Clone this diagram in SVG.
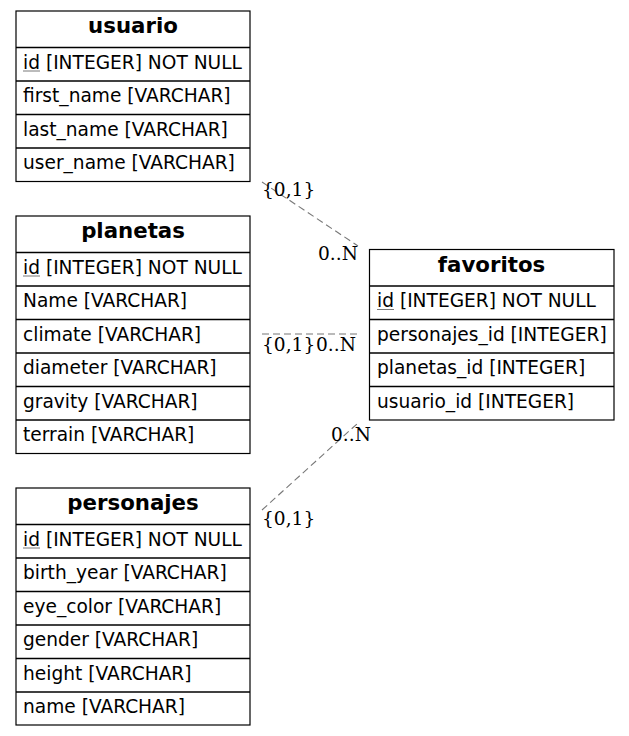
<svg xmlns="http://www.w3.org/2000/svg" width="629" height="736" viewBox="0 0 629 736">
<style>
.box{fill:#fff;stroke:#000;stroke-width:1.2}
.sep{stroke:#000;stroke-width:1.6}
.h{font-family:"DejaVu Sans",sans-serif;font-size:21.3px;font-weight:bold;text-anchor:middle;fill:#000}
.r{font-family:"DejaVu Sans",sans-serif;font-size:18.6px;fill:#000}
.u{stroke:#555;stroke-width:0.8}
.e{stroke:#777;stroke-width:1.1;stroke-dasharray:7,4;fill:none}
.l{font-family:"DejaVu Serif",serif;font-size:18.6px;fill:#000}
</style>
<rect width="629" height="736" fill="#fff"/>
<g id="usuario">
<rect class="box" x="16" y="11" width="234" height="170.5"/>
<line class="sep" x1="16" y1="47.5" x2="250" y2="47.5"/>
<line class="sep" x1="16" y1="81" x2="250" y2="81"/>
<line class="sep" x1="16" y1="114.5" x2="250" y2="114.5"/>
<line class="sep" x1="16" y1="148" x2="250" y2="148"/>
<text class="h" x="133" y="32.5">usuario</text>
<text class="r" x="23" y="68.5">id [INTEGER] NOT NULL</text>
<line class="u" x1="23" y1="71" x2="40" y2="71"/>
<text class="r" x="23" y="102">first_name [VARCHAR]</text>
<text class="r" x="23" y="135.5">last_name [VARCHAR]</text>
<text class="r" x="23" y="169">user_name [VARCHAR]</text>
</g>
<g id="planetas">
<rect class="box" x="16" y="216" width="234" height="237.5"/>
<line class="sep" x1="16" y1="252.5" x2="250" y2="252.5"/>
<line class="sep" x1="16" y1="286" x2="250" y2="286"/>
<line class="sep" x1="16" y1="319.5" x2="250" y2="319.5"/>
<line class="sep" x1="16" y1="353" x2="250" y2="353"/>
<line class="sep" x1="16" y1="386.5" x2="250" y2="386.5"/>
<line class="sep" x1="16" y1="420" x2="250" y2="420"/>
<text class="h" x="133" y="237.5">planetas</text>
<text class="r" x="23" y="273.5">id [INTEGER] NOT NULL</text>
<line class="u" x1="23" y1="276" x2="40" y2="276"/>
<text class="r" x="23" y="307">Name [VARCHAR]</text>
<text class="r" x="23" y="340.5">climate [VARCHAR]</text>
<text class="r" x="23" y="374">diameter [VARCHAR]</text>
<text class="r" x="23" y="407.5">gravity [VARCHAR]</text>
<text class="r" x="23" y="441">terrain [VARCHAR]</text>
</g>
<g id="personajes">
<rect class="box" x="16" y="488" width="234" height="237"/>
<line class="sep" x1="16" y1="524.5" x2="250" y2="524.5"/>
<line class="sep" x1="16" y1="558" x2="250" y2="558"/>
<line class="sep" x1="16" y1="591.5" x2="250" y2="591.5"/>
<line class="sep" x1="16" y1="625" x2="250" y2="625"/>
<line class="sep" x1="16" y1="658.5" x2="250" y2="658.5"/>
<line class="sep" x1="16" y1="692" x2="250" y2="692"/>
<text class="h" x="133" y="509.5">personajes</text>
<text class="r" x="23" y="545.5">id [INTEGER] NOT NULL</text>
<line class="u" x1="23" y1="548" x2="40" y2="548"/>
<text class="r" x="23" y="579">birth_year [VARCHAR]</text>
<text class="r" x="23" y="612.5">eye_color [VARCHAR]</text>
<text class="r" x="23" y="646">gender [VARCHAR]</text>
<text class="r" x="23" y="679.5">height [VARCHAR]</text>
<text class="r" x="23" y="713">name [VARCHAR]</text>
</g>
<g id="favoritos">
<rect class="box" x="369.5" y="249.5" width="244.5" height="170.5"/>
<line class="sep" x1="369.5" y1="286" x2="614" y2="286"/>
<line class="sep" x1="369.5" y1="319.5" x2="614" y2="319.5"/>
<line class="sep" x1="369.5" y1="353" x2="614" y2="353"/>
<line class="sep" x1="369.5" y1="386.5" x2="614" y2="386.5"/>
<text class="h" x="491.5" y="271.5">favoritos</text>
<text class="r" x="377" y="307">id [INTEGER] NOT NULL</text>
<line class="u" x1="377" y1="309.5" x2="394" y2="309.5"/>
<text class="r" x="377" y="340.5">personajes_id [INTEGER]</text>
<text class="r" x="377" y="374">planetas_id [INTEGER]</text>
<text class="r" x="377" y="407.5">usuario_id [INTEGER]</text>
</g>
<g id="connectors">
<path class="e" d="M262,182 L358,246"/>
<path class="e" d="M262,334 L358,334"/>
<path class="e" d="M262,510 L358,423"/>
<text class="l" x="262" y="196">{0,1}</text>
<text class="l" x="318" y="260">0..N</text>
<text class="l" x="262" y="351">{0,1}</text>
<text class="l" x="316" y="351">0..N</text>
<text class="l" x="331" y="441">0..N</text>
<text class="l" x="262" y="525">{0,1}</text>
</g>
</svg>
